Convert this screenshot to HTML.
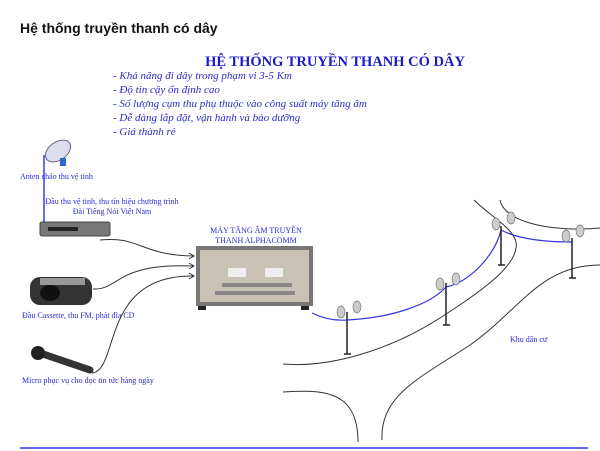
<!DOCTYPE html>
<html><head><meta charset="utf-8"><style>
body{margin:0;background:#fff;width:600px;height:451px;overflow:hidden}
svg{display:block}
.l{font-family:"Liberation Serif",serif;font-size:8px;fill:#2a2ad0}
.b{font-family:"Liberation Serif",serif;font-style:italic;font-size:11px;fill:#2a2ad0}
</style></head><body>
<svg width="600" height="451" viewBox="0 0 600 451">
<text x="20" y="33" font-family="Liberation Sans,sans-serif" font-weight="bold" font-size="14" fill="#111">Hệ thống truyền thanh có dây</text>
<text x="335" y="66" text-anchor="middle" font-family="Liberation Serif,serif" font-weight="bold" font-size="14.5" fill="#1a1acc">HỆ THỐNG TRUYỀN THANH CÓ DÂY</text>
<text class="b" x="113" y="79">- Khả năng đi dây trong phạm vi 3-5 Km</text>
<text class="b" x="113" y="93">- Độ tin cậy ổn định cao</text>
<text class="b" x="113" y="107">- Số lượng cụm thu phụ thuộc vào công suất máy tăng âm</text>
<text class="b" x="113" y="121">- Dễ dàng lắp đặt, vận hành và bảo dưỡng</text>
<text class="b" x="113" y="135">- Giá thành rẻ</text>
<line x1="44" y1="155" x2="44" y2="223" stroke="#6a6aff" stroke-width="2"/>
<ellipse cx="58" cy="151" rx="14" ry="9" fill="#dde" stroke="#667" transform="rotate(-35 58 151)"/>
<rect x="60" y="158" width="6" height="8" fill="#36c"/>
<text class="l" x="20" y="179">Anten chảo thu vệ tinh</text>
<text class="l" x="112" y="204" text-anchor="middle">Đầu thu vệ tinh, thu tín hiệu chương trình</text>
<text class="l" x="112" y="214" text-anchor="middle">Đài Tiếng Nói Việt Nam</text>
<rect x="40" y="222" width="70" height="14" rx="2" fill="#777" stroke="#444"/>
<rect x="48" y="227" width="30" height="4" fill="#222"/>
<rect x="30" y="277" width="62" height="28" rx="10" fill="#333"/>
<ellipse cx="50" cy="293" rx="10" ry="8" fill="#111"/>
<rect x="40" y="278" width="45" height="7" fill="#999"/>
<text class="l" x="22" y="318">Đầu Cassette, thu FM,  phát đĩa CD</text>
<line x1="40" y1="353" x2="90" y2="370" stroke="#333" stroke-width="7" stroke-linecap="round"/>
<circle cx="38" cy="353" r="7" fill="#222"/>
<text class="l" x="22" y="383">Micro phục vụ cho đọc tin tức hàng ngày</text>
<text class="l" x="256" y="233" text-anchor="middle" font-size="9">MÁY TĂNG ÂM TRUYỀN</text>
<text class="l" x="256" y="243" text-anchor="middle" font-size="9">THANH ALPHACOMM</text>
<rect x="196" y="246" width="117" height="60" fill="#777"/>
<rect x="200" y="250" width="109" height="52" fill="#c9c3b5"/>
<rect x="228" y="268" width="18" height="9" fill="#eee"/>
<rect x="265" y="268" width="18" height="9" fill="#eee"/>
<rect x="222" y="283" width="70" height="4" fill="#888"/>
<rect x="215" y="291" width="80" height="4" fill="#888"/>
<rect x="198" y="306" width="8" height="4" fill="#222"/><rect x="301" y="306" width="8" height="4" fill="#222"/>
<g fill="none" stroke="#333" stroke-width="1">
<path d="M100 240 C140 236 140 255 193 256"/>
<path d="M93 289 C120 290 115 263 193 266"/>
<path d="M92 373 C120 370 100 275 193 276"/>
</g>
<path d="M189 253l5 3-5 3M189 263l5 3-5 3M189 273l5 3-5 3" fill="none" stroke="#333"/>
<g fill="none" stroke="#333" stroke-width="1">
<path d="M283 364 C330 368 390 350 440 318 C480 292 520 265 516 242 C513 228 490 216 474 200"/>
<path d="M283 392 C320 390 358 388 358 442"/>
<path d="M382 440 C380 395 420 378 470 345 C520 310 540 265 600 265"/>
<path d="M500 200 C505 225 560 232 600 228"/>
</g>
<path d="M312 313 C330 322 345 320 347 320 C390 318 430 305 446 287 C470 282 495 255 501 230 C520 240 550 242 572 242" fill="none" stroke="#3333dd" stroke-width="1.2"/>
<g stroke="#222" stroke-width="1.5">
<line x1="347" y1="312" x2="347" y2="354"/><line x1="344" y1="354" x2="351" y2="354"/>
<line x1="446" y1="283" x2="446" y2="325"/><line x1="443" y1="325" x2="450" y2="325"/>
<line x1="501" y1="226" x2="501" y2="265"/><line x1="498" y1="265" x2="505" y2="265"/>
<line x1="572" y1="238" x2="572" y2="278"/><line x1="569" y1="278" x2="576" y2="278"/>
</g>
<g fill="#ccc" stroke="#777" stroke-width="0.7">
<ellipse cx="341" cy="312" rx="4" ry="6"/><ellipse cx="357" cy="307" rx="4" ry="6"/>
<ellipse cx="440" cy="284" rx="4" ry="6"/><ellipse cx="456" cy="279" rx="4" ry="6"/>
<ellipse cx="496" cy="224" rx="4" ry="6"/><ellipse cx="511" cy="218" rx="4" ry="6"/>
<ellipse cx="566" cy="236" rx="4" ry="6"/><ellipse cx="580" cy="231" rx="4" ry="6"/>
</g>
<text class="l" x="510" y="342" font-size="10">Khu dân cư</text>
<line x1="20" y1="448" x2="588" y2="448" stroke="#3333ee" stroke-width="1.5"/>
</svg>
</body></html>
